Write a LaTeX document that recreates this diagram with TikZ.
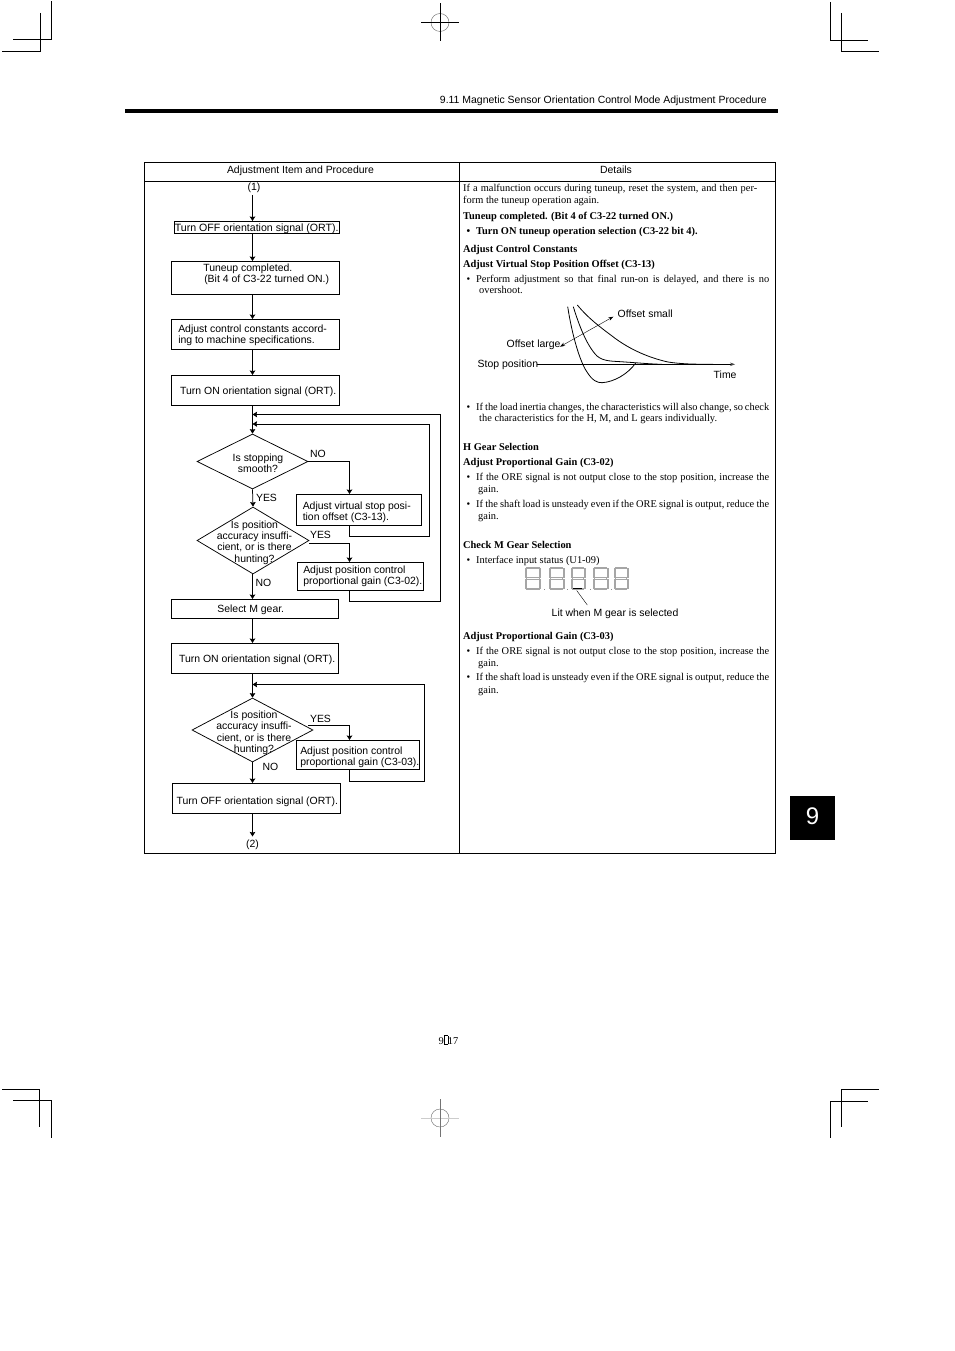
\documentclass[tikz,border=0pt]{standalone}
\usepackage{fontspec}
\setmainfont{Liberation Serif}
\newfontfamily\hv{Liberation Sans}
\usetikzlibrary{arrows.meta,shapes.geometric}
\newcommand\placed[3]{\smash{\makebox[0pt][l]{\hspace{#1pt}\raisebox{\dimexpr#2pt-4pt\relax}{\begin{tabular}[c]{@{}l@{}}#3\end{tabular}}}}}
\newcommand\placedc[3]{\smash{\makebox[0pt][c]{\hspace{#1pt}\raisebox{\dimexpr#2pt-4pt\relax}{\begin{tabular}[c]{@{}c@{}}#3\end{tabular}}}}}
\tikzset{
 x=1pt,y=-1pt,
 flow/.style={line width=.75pt,-{Stealth[length=4.5pt,width=5.5pt,inset=.6pt]}},
 boxn/.style={draw,line width=.75pt,inner sep=0pt,font=\hv\fontsize{10.45}{11.3}\selectfont},
 dia/.style={draw,diamond,line width=.75pt,inner sep=0pt,font=\hv\fontsize{10.45}{11.3}\selectfont},
 lab/.style={inner sep=0pt,font=\hv\fontsize{10.45}{11.3}\selectfont},
 tx/.style={anchor=west,inner sep=0pt,yshift=-1.3pt,font=\fontsize{10.4}{11}\selectfont},
 txb/.style={tx,font=\fontsize{10.4}{11}\selectfont\bfseries},
 crop/.style={line width=.8pt},
 seg/.style={draw=black!35,line width=.35pt},
}
\begin{document}
\begin{tikzpicture}
\useasboundingbox (0,0) rectangle (954,1351);
% crop marks
\draw[crop] (51.5,1.5)--(51.5,39.5)--(13,39.5) (40.5,13)--(40.5,51.5)--(2,51.5);
\draw[crop] (830.3,2)--(830.3,40)--(867.7,40) (841.3,13)--(841.3,51.3)--(878.7,51.3);
\draw[crop] (2,1089.3)--(39.5,1089.3)--(39.5,1126.7) (13,1100.5)--(51.7,1100.5)--(51.7,1137.7);
\draw[crop] (878.7,1089.3)--(841.3,1089.3)--(841.3,1126.7) (867.7,1101.3)--(830.3,1101.3)--(830.3,1138);
% registration marks
\draw[line width=.4pt,black!60] (440,22.5) circle (9);
\draw[crop] (421,22.5)--(459,22.5) (440,3.5)--(440,41);
\draw[line width=.4pt,black!60] (440,1118) circle (9);
\draw[line width=.7pt,black!20] (421,1118)--(459,1118);
\draw[line width=.5pt,black!55] (440,1099)--(440,1137);
% header
\fill (125,109) rectangle (778,113);
\node[anchor=east,inner sep=0pt,font=\hv\fontsize{10.45}{11}\selectfont] (hdr) at (767,100.5) {9.11 Magnetic Sensor Orientation Control Mode Adjustment Procedure};
% tab
\node[fill=black,text=white,minimum width=45pt,minimum height=44pt,inner sep=0pt,font=\hv\fontsize{24}{24}\selectfont] (tab) at (812.5,818) {\raisebox{3pt}{9}};
% page number
\node[inner sep=0pt,font=\fontsize{10.4}{11}\selectfont] (pg) at (448.5,1040) {9\setlength\fboxsep{0pt}\setlength\fboxrule{.3pt}\fbox{\rule{3.5pt}{0pt}\rule{0pt}{8.5pt}}17};
% table
\draw[line width=.8pt] (144,162.5) rectangle (775,853);
\draw[line width=.8pt] (144,181) -- (775,181) (459.5,162.5) -- (459.5,853);
\node[lab] (h1) at (300.5,170.5) {Adjustment Item and Procedure};
\node[lab] (h2) at (616,169.5) {Details};
% flow nodes
\node[lab] (s1) at (254,188) {(1)};
\node[lab] (s2) at (252.5,844.5) {(2)};
\node[boxn,minimum width=164.5pt,minimum height=12pt] (b1) at (256.75,227) {\placedc{0}{-.5}{\fontsize{10.6}{11.3}\selectfont Turn OFF orientation signal (ORT).}};
\node[boxn,minimum width=168.5pt,minimum height=33pt] (b2) at (255.25,277.5) {\placed{-52}{4}{Tuneup completed.\\\hspace*{1pt}(Bit 4 of C3-22 turned ON.)}};
\node[boxn,minimum width=168.5pt,minimum height=30pt] (b3) at (255.25,334) {\placed{-77}{0}{Adjust control constants accord-\\ing to machine specifications.}};
\node[boxn,minimum width=168.5pt,minimum height=30pt] (b4) at (255.25,390) {\placedc{6}{-.5}{Turn ON orientation signal (ORT).}};
\node[dia,minimum width=111pt,minimum height=55pt] (d1) at (252.5,461.5) {\placedc{11}{-2}{Is stopping\\smooth?}};
\node[boxn,minimum width=124.5pt,minimum height=31pt] (b5) at (358.75,509.5) {\placed{-56}{-2}{Adjust virtual stop posi-\\tion offset (C3-13).}};
\node[dia,minimum width=112pt,minimum height=67pt] (d2) at (253,540.5) {\placedc{3}{-1}{Is position\\accuracy insuffi-\\cient, or is there\\hunting?}};
\node[boxn,minimum width=125.5pt,minimum height=28pt] (b6) at (360.25,576) {\placed{-57}{1}{Adjust position control\\proportional gain (C3-02).}};
\node[boxn,minimum width=167.5pt,minimum height=19pt] (b7) at (254.75,608.5) {\placedc{-8}{0}{Select M gear.}};
\node[boxn,minimum width=167.5pt,minimum height=30pt] (b8) at (254.75,658) {\placedc{4.75}{-1}{Turn ON orientation signal (ORT).}};
\node[dia,minimum width=121pt,minimum height=64pt] (d3) at (252.5,730) {\placedc{3}{-1.8}{Is position\\accuracy insuffi-\\cient, or is there\\hunting?}};
\node[boxn,minimum width=122.5pt,minimum height=29pt] (b9) at (357.75,754.5) {\placed{-57.5}{-2}{Adjust position control\\proportional gain (C3-03).}};
\node[boxn,minimum width=168pt,minimum height=30pt] (b10) at (256,798) {\placedc{2.5}{-3}{Turn OFF orientation signal (ORT).}};
% labels
\node[lab] (l1) at (318,453.5) {NO};
\node[lab] (l2) at (266.5,497.5) {YES};
\node[lab] (l3) at (320.5,535) {YES};
\node[lab] (l4) at (263.5,582.5) {NO};
\node[lab] (l5) at (320.5,718.5) {YES};
\node[lab] (l6) at (270.5,766.5) {NO};
% helper coordinates
\coordinate (m) at (252.5,414.5);
\coordinate (n) at (252.5,424);
\coordinate (r1) at (440,414.5);
\coordinate (r1b) at (440,601);
\coordinate (r2) at (429,424);
\coordinate (r2b) at (429,536);
\coordinate (r5) at (349.5,536);
\coordinate (r6) at (349.5,601);
\coordinate (c9) at (349.5,781);
\coordinate (r3b) at (424.5,781);
\coordinate (r3) at (424.5,684.5);
\coordinate (n3) at (252.5,684.5);
\coordinate (y2) at (309,543.5);
\coordinate (y3) at (308,725.5);
% connectors
\draw[flow] (252.5,195) -- (252.5,221);
\draw[flow] (252.5,233) -- (252.5,261);
\draw[flow] (252.5,294) -- (252.5,319);
\draw[flow] (252.5,349) -- (252.5,375);
\draw[flow] (252.5,405) -- (d1.north);
\draw[flow] (d1.south) -- (d2.north);
\draw[flow] (252.5,574) -- (252.5,599);
\draw[flow] (252.5,618) -- (252.5,643);
\draw[flow] (252.5,673) -- (d3.north);
\draw[flow] (d3.south) -- (252.5,783);
\draw[flow] (252.5,813) -- (252.5,836.5);
\draw[flow] (d1.east) -- (349.5,461.5) -- (349.5,494);
\draw[flow] (y2) -- (349.5,543.5) -- (349.5,562);
\draw[flow] (y3) -- (349.5,725.5) -- (349.5,740);
\draw[flow] (349.5,525) -- (r5) -- (r2b) -- (r2) -- (n);
\draw[flow] (349.5,590) -- (r6) -- (r1b) -- (r1) -- (m);
\draw[flow] (349.5,769) -- (c9) -- (r3b) -- (r3) -- (n3);
% right column
\node[tx] (t1) at (463,188) {\makebox[294pt][s]{If a malfunction occurs during tuneup, reset the system, and then per-}};
\node[tx] (t2) at (463,200) {form the tuneup operation again.};
\node[txb] (t3) at (463,215.5) {Tuneup completed. (Bit 4 of C3-22 turned ON.)};
\node[txb] (t4b) at (466.5,230.5) {•};
\node[txb] (t4) at (476,230.5) {Turn ON tuneup operation selection (C3-22 bit 4).};
\node[txb] (t5) at (463,248.5) {Adjust Control Constants};
\node[txb] (t6) at (463,263.5) {Adjust Virtual Stop Position Offset (C3-13)};
\node[tx] (t7b) at (466.5,278.5) {•};
\node[tx] (t7) at (476,278.5) {\makebox[293pt][s]{Perform adjustment so that final run-on is delayed, and there is no}};
\node[tx] (t8) at (479,289) {overshoot.};
\node[tx] (t9b) at (466.5,406.5) {•};
\node[tx] (t9) at (476,406.5) {\makebox[293pt][s]{If the load inertia changes, the characteristics will also change, so check}};
\node[tx] (t10) at (479,417.5) {the characteristics for the H, M, and L gears individually.};
\node[txb] (t11) at (463,445.5) {H Gear Selection};
\node[txb] (t12) at (463,462) {Adjust Proportional Gain (C3-02)};
\node[tx] (t13b) at (466.5,477) {•};
\node[tx] (t13) at (476,477) {\makebox[293pt][s]{If the ORE signal is not output close to the stop position, increase the}};
\node[tx] (t14) at (478,488.5) {gain.};
\node[tx] (t15b) at (466.5,503.5) {•};
\node[tx] (t15) at (476,503.5) {\makebox[293pt][s]{If the shaft load is unsteady even if the ORE signal is output, reduce the}};
\node[tx] (t16) at (478,515.5) {gain.};
\node[txb] (t17) at (463,543.5) {Check M Gear Selection};
\node[tx] (t18b) at (466.5,559.5) {•};
\node[tx] (t18) at (476,559.5) {Interface input status (U1-09)};
\node[txb] (t19) at (463,635.5) {Adjust Proportional Gain (C3-03)};
\node[tx] (t20b) at (466.5,651) {•};
\node[tx] (t20) at (476,651) {\makebox[293pt][s]{If the ORE signal is not output close to the stop position, increase the}};
\node[tx] (t21) at (478,662.5) {gain.};
\node[tx] (t22b) at (466.5,677) {•};
\node[tx] (t22) at (476,677) {\makebox[293pt][s]{If the shaft load is unsteady even if the ORE signal is output, reduce the}};
\node[tx] (t23) at (478,689.5) {gain.};
% graph
\node[lab,anchor=west] (g1) at (617.5,313.5) {Offset small};
\node[lab,anchor=west] (g2) at (506.5,345) {Offset large};
\node[lab,anchor=west] (g3) at (477.5,365) {Stop position};
\node[lab,anchor=west] (g4) at (713.5,374.5) {Time};
\coordinate (axs) at (537,364.3);
\coordinate (axe) at (735,364.3);
\coordinate (oa) at (560,346.7);
\coordinate (ob) at (613.3,316.7);
\draw[line width=.4pt,-{Stealth[length=5pt,width=3.5pt,black!70]}] (axs) -- (axe);
\draw[line width=.4pt,{Stealth[length=5pt,width=3.5pt]}-{Stealth[length=5pt,width=3.5pt]}] (oa) -- (ob);
\draw[line width=.8pt] (567.7,306.7) .. controls (572,335) and (580,362) .. (587,372) .. controls (592,380) and (597,383) .. (602,382.7) .. controls (614,382) and (628,374) .. (635.7,363);
\draw[line width=.8pt] (573.3,306.7) .. controls (578,322) and (586,345) .. (597,356) .. controls (604,362) and (614,361) .. (625,362) .. controls (640,363) and (650,364) .. (662,364.3);
\draw[line width=.8pt] (577.3,305) .. controls (588,318) and (600,327) .. (612,336) .. controls (630,350) and (650,358) .. (668,362) .. controls (680,364) and (695,364.3) .. (713,364.3);
% seven segment display
\foreach \dx/\w in {525/15.5,549/15,571/14,593/15,614/14}{
 \draw[seg] (\dx+1.5,567) rectangle (\dx+\w-1.5,568.5);
 \draw[seg] (\dx,568.5) rectangle (\dx+1.2,577);
 \draw[seg] (\dx+\w-1.2,568.5) rectangle (\dx+\w,577);
 \draw[seg] (\dx+1.5,577.5) rectangle (\dx+\w-1.5,579);
 \draw[seg] (\dx,579.5) rectangle (\dx+1.2,588);
 \draw[seg] (\dx+\w-1.2,579.5) rectangle (\dx+\w,588);
 \draw[seg] (\dx+1.5,588) rectangle (\dx+\w-1.5,589.5);
}
\foreach \dx in {544,567,590,611}{ \fill[black!45] (\dx,588.5) rectangle +(1,1); }
\coordinate (lit1) at (573.3,588.7);
\coordinate (lit2) at (582,588.7);
\draw[line width=1.5pt] (lit1) -- (lit2);
\node[lab,anchor=west] (g5) at (551.5,613.5) {Lit when M gear is selected};
\coordinate (lead) at (576.7,590.5);
\coordinate (leadb) at (587.3,605);
\draw[line width=.4pt] (lead) -- (leadb);
\end{tikzpicture}
\end{document}
